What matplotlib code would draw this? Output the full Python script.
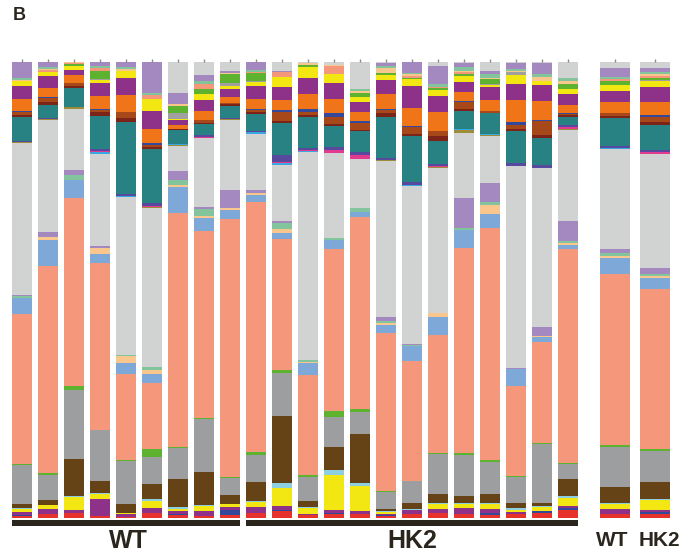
import numpy as np
import matplotlib.pyplot as plt
from matplotlib.patches import Rectangle

# samples: 9 WT, 13 HK2, then group means
n_wt = 9
n_hk = 13
group_labels = ['WT', 'HK2']

# relative abundance per taxon (bottom -> top), one value per sample
red       = [2, 4, 5, 2, 1, 5, 3, 2, 3,   5, 7, 3, 4, 4, 2, 4, 5, 4, 3, 4, 5, 8,   4, 4]
navy      = [1, 0, 0, 0, 0, 0, 1, 0, 5,   0, 1, 0, 1, 0, 1, 0, 0, 0, 2, 0, 2, 2,   0, 2]
purple    = [3, 5, 3, 17, 3, 5, 3, 5, 3,  6, 4, 1, 3, 3, 1, 4, 4, 6, 4, 2, 0, 2,   5, 2]
yellow    = [3, 4, 13, 5, 1, 7, 2, 5, 3,  5, 18, 6, 35, 25, 2, 0, 5, 4, 5, 2, 4, 8, 5, 10]
cyan      = [1, 0, 1, 1, 0, 2, 2, 1, 0,   1, 5, 1, 5, 3, 1, 1, 1, 1, 1, 2, 1, 2,   1, 1]
brown     = [4, 5, 37, 12, 9, 15, 28, 33, 9,  19, 67, 6, 23, 49, 2, 6, 9, 7, 9, 5, 3, 17,  16, 17]
gray      = [39, 25, 69, 51, 43, 27, 31, 53, 17,  27, 43, 24, 30, 22, 17, 22, 40, 41, 32, 26, 59, 15,  40, 31]
green     = [1, 2, 4, 0, 1, 8, 1, 1, 1,   3, 3, 2, 6, 3, 1, 0, 1, 2, 2, 1, 1, 1,   2, 2]
salmon    = [150, 207, 188, 166, 86, 66, 234, 187, 257,
             249, 130, 100, 162, 192, 158, 120, 118, 205, 232, 90, 101, 214,  171, 159]
ltblue    = [16, 26, 18, 9, 11, 9, 26, 13, 9,  7, 6, 12, 9, 5, 8, 15, 18, 18, 14, 17, 5, 4,  16, 11]
peach     = [0, 3, 0, 6, 7, 4, 2, 2, 2,   2, 4, 1, 0, 0, 2, 0, 4, 0, 9, 0, 1, 2,   2, 2]
mint      = [2, 0, 5, 0, 1, 3, 5, 7, 0,   0, 6, 2, 2, 4, 2, 1, 0, 2, 3, 0, 0, 2,   3, 2]
lavender  = [1, 5, 5, 2, 0, 0, 9, 2, 18,  3, 2, 0, 0, 0, 4, 1, 0, 30, 19, 1, 9, 20,  4, 6]
lgray     = [151, 112, 61, 92, 158, 159, 25, 69, 70,
             56, 56, 208, 85, 49, 156, 158, 145, 65, 47, 202, 160, 91,  100, 114]
olive     = [1, 1, 2, 0, 0, 1, 1, 0, 1,   0, 0, 0, 0, 0, 1, 0, 1, 3, 1, 0, 0, 1,   0, 0]
sky       = [0, 0, 0, 2, 1, 0, 1, 0, 0,   2, 2, 1, 0, 0, 0, 1, 0, 1, 1, 0, 0, 0,   1, 0]
pink      = [0, 0, 0, 1, 0, 1, 0, 1, 0,   0, 1, 1, 3, 4, 0, 0, 1, 0, 0, 0, 0, 2,   0, 2]
indigo    = [1, 1, 0, 2, 2, 3, 0, 2, 1,   1, 7, 2, 3, 3, 2, 3, 2, 0, 0, 3, 3, 2,   2, 2]
teal      = [24, 13, 19, 33, 72, 54, 14, 11, 12,  17, 32, 31, 21, 21, 41, 46, 23, 18, 21, 32, 27, 8,  28, 25]
darkred   = [2, 3, 2, 4, 4, 2, 1, 1, 2,   2, 2, 2, 2, 1, 4, 2, 5, 2, 0, 2, 3, 2,   2, 3]
rust      = [3, 4, 3, 2, 6, 2, 0, 3, 1,   2, 9, 3, 7, 7, 3, 7, 5, 7, 2, 4, 14, 1,  3, 5]
navy_b    = [1, 1, 0, 1, 0, 2, 0, 0, 0,   1, 2, 3, 4, 2, 1, 1, 0, 1, 0, 3, 1, 1,   0, 2]
orange    = [12, 9, 8, 13, 17, 14, 4, 9, 6,  10, 10, 15, 14, 9, 15, 18, 19, 9, 11, 22, 19, 8,  11, 13]
purple_b  = [13, 12, 5, 13, 17, 18, 5, 11, 8,  13, 13, 16, 16, 10, 14, 22, 16, 10, 13, 16, 16, 11,  11, 15]
yellow_b  = [5, 4, 4, 3, 7, 12, 1, 6, 3,  4, 10, 11, 9, 5, 5, 7, 6, 6, 2, 9, 4, 5,  6, 6]
gray_b    = [0, 0, 0, 1, 0, 0, 6, 0, 3,   1, 0, 0, 0, 0, 0, 0, 0, 0, 1, 3, 0, 0,   0, 1]
green_b   = [0, 0, 2, 8, 0, 0, 7, 5, 9,   8, 0, 2, 0, 4, 2, 1, 2, 2, 5, 0, 0, 5,   4, 2]
salmon_b  = [0, 2, 1, 3, 0, 4, 0, 5, 0,   1, 5, 0, 8, 0, 0, 2, 1, 2, 0, 0, 0, 0,   2, 2]
peach_b   = [1, 1, 1, 0, 2, 0, 2, 0, 1,   0, 0, 2, 1, 2, 5, 2, 0, 1, 1, 1, 4, 3,   0, 2]
mint_b    = [2, 2, 0, 2, 2, 2, 0, 3, 0,   2, 0, 0, 0, 2, 2, 1, 3, 4, 4, 2, 3, 3,   2, 2]
lavender_b = [16, 5, 0, 4, 5, 31, 11, 6, 2,  8, 1, 0, 0, 0, 3, 11, 18, 4, 3, 6, 11, 0,  9, 4]
lgray_b   = [0, 0, 0, 0, 0, 0, 31, 13, 9,  0, 9, 1, 3, 27, 1, 0, 4, 1, 9, 1, 1, 16,  6, 6]

layers = [
    (red, '#e7312b'), (navy, '#33489b'), (purple, '#8e3189'), (yellow, '#f2e713'),
    (cyan, '#8ccfe0'), (brown, '#654317'), (gray, '#9d9e9f'), (green, '#5db330'),
    (salmon, '#f4977b'), (ltblue, '#7ea8d8'), (peach, '#f9c68d'), (mint, '#82c59c'),
    (lavender, '#a389bf'), (lgray, '#d1d2d2'), (olive, '#9b8d3a'), (sky, '#3aa8e0'),
    (pink, '#e23a8e'), (indigo, '#574a9e'), (teal, '#288182'), (darkred, '#7c2417'),
    (rust, '#a7481a'), (navy_b, '#34489c'), (orange, '#f07519'), (purple_b, '#8e3189'),
    (yellow_b, '#f2e713'), (gray_b, '#a0a0a0'), (green_b, '#5db330'), (salmon_b, '#f4977b'),
    (peach_b, '#f9c68d'), (mint_b, '#82c59c'), (lavender_b, '#a389bf'), (lgray_b, '#d1d2d2'),
]

data = np.array([l for l, c in layers], dtype=float)
data = data / data.sum(axis=0)

n = n_wt + n_hk
pos = np.concatenate([np.arange(n), [22.8, 24.35]])
width = np.array([0.77] * n + [1.154] * 2)

fig = plt.figure(figsize=(6.99, 5.56), dpi=100)
ax = fig.add_axes([0, 0, 1, 1])
ax.set_xlim(-22 / 26, 677 / 26)
ax.set_ylim(-38 / 456, 518 / 456)
ax.axis('off')

bottom = np.zeros(len(pos))
for (vals, col), row in zip(layers, data):
    ax.bar(pos, row, width=width, bottom=bottom, color=col, linewidth=0)
    bottom += row

# small tick marks on top of each bar
ax.vlines(pos, 1.0, 1.0 + 3 / 456, color='#8a8a8a', lw=1)

# group bars under the samples
dark = '#2a251d'
ax.add_patch(Rectangle((-0.385, -8 / 456), n_wt - 0.23, 6 / 456, color=dark, lw=0))
ax.add_patch(Rectangle((n_wt - 0.385, -8 / 456), n_hk - 0.23, 6 / 456, color=dark, lw=0))

font = ['Liberation Sans', 'DejaVu Sans']
ax.text((n_wt - 1) / 2 + 0.1, -23 / 456, group_labels[0], ha='center', va='center',
        fontsize=18, fontweight='bold', color=dark, family=font)
ax.text(n_wt + (n_hk - 1) / 2, -23 / 456, group_labels[1], ha='center', va='center',
        fontsize=18, fontweight='bold', color=dark, family=font)
ax.text(pos[-2] - 0.1, -22 / 456, group_labels[0], ha='center', va='center',
        fontsize=15, fontweight='bold', color=dark, family=font)
ax.text(pos[-1] + 0.18, -22 / 456, group_labels[1], ha='center', va='center',
        fontsize=15, fontweight='bold', color=dark, family=font)

fig.text(13 / 699, 1 - 16 / 556, 'B', ha='left', va='center', fontsize=13,
         fontweight='bold', color=dark, family=font)

fig.savefig('out.png', dpi=100)
